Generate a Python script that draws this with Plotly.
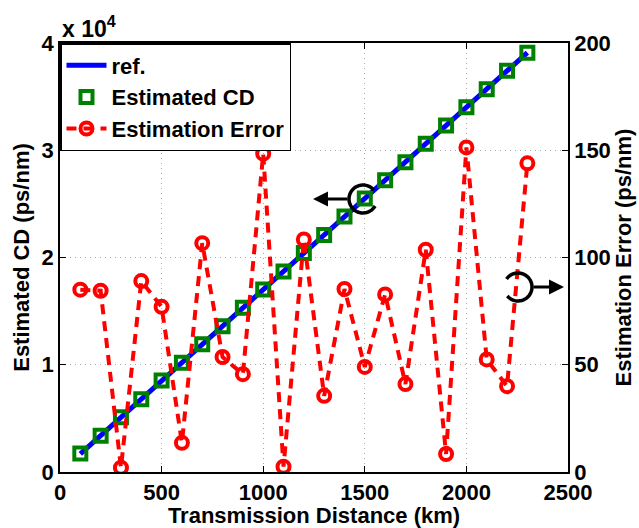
import numpy as np
import plotly.graph_objects as go

# ---- data ----
distance_km = [100, 200, 300, 400, 500, 600, 700, 800, 900, 1000, 1100, 1200,
               1300, 1400, 1500, 1600, 1700, 1800, 1900, 2000, 2100, 2200, 2300]
ref_cd = [1700, 3400, 5100, 6800, 8500, 10200, 11900, 13600, 15300, 17000, 18700, 20400,
          22100, 23800, 25500, 27200, 28900, 30600, 32300, 34000, 35700, 37400, 39100]
est_cd = [1720, 3390, 5110, 6790, 8520, 10190, 11920, 13590, 15310, 17010, 18690, 20420,
          22090, 23820, 25490, 27210, 28890, 30610, 32300, 34020, 35690, 37410, 39090]
est_err = [85, 84.5, 2, 89, 77, 13.6, 106.7, 53.6, 45.6, 148.4, 2.5, 108.4,
           35.5, 85.3, 49, 82.8, 41, 103.6, 8.4, 151.3, 52.5, 40, 143.9]

x_ticks = [0, 500, 1000, 1500, 2000, 2500]
y1_ticks = [0, 10000, 20000, 30000, 40000]
y1_ticktext = ["0", "1", "2", "3", "4"]
y2_ticks = [0, 50, 100, 150, 200]

FONT = "Liberation Sans, Arial, sans-serif"
W, H = 639, 528
L, R, T, B = 60, 71, 43, 56
PW, PH = W - L - R, H - T - B

fig = go.Figure()
fig.add_trace(go.Scatter(x=distance_km, y=ref_cd, mode="lines", name="ref.",
                         line=dict(color="#0000ff", width=5)))
fig.add_trace(go.Scatter(x=distance_km, y=est_cd, mode="markers", name="Estimated CD",
                         marker=dict(symbol="square-open", size=12, color="#008000",
                                     line=dict(width=4, color="#008000"))))
fig.add_trace(go.Scatter(x=distance_km, y=est_err, mode="lines+markers", name="Estimation Error",
                         yaxis="y2",
                         line=dict(color="#ff0000", width=4, dash="10px,7px"),
                         marker=dict(symbol="circle-open", size=12, color="#ff0000",
                                     line=dict(width=4, color="#ff0000"))))

def px2paper(px, py):
    return (px - L) / PW, (H - B - py) / PH

def arc_path(cx, cy, r, a0, a1, n=40):
    angs = np.radians(np.linspace(a0, a1, n))
    pts = [px2paper(cx + r * np.cos(a), cy - r * np.sin(a)) for a in angs]
    return "M " + " L ".join(f"{p[0]:.5f},{p[1]:.5f}" for p in pts)

shapes = [
    dict(type="path", xref="paper", yref="paper",
         path=arc_path(363, 199, 14, 40, 330), line=dict(color="black", width=3.5)),
    dict(type="path", xref="paper", yref="paper",
         path=arc_path(518, 287, 14, -140, 145), line=dict(color="black", width=3.5)),
]

ann = []
tip1 = px2paper(313, 199)
ann.append(dict(xref="paper", yref="paper", x=tip1[0], y=tip1[1], ax=36, ay=0,
                text="", showarrow=True, arrowhead=2, arrowsize=1, arrowwidth=3,
                arrowcolor="black"))
tip2 = px2paper(564, 287)
ann.append(dict(xref="paper", yref="paper", x=tip2[0], y=tip2[1], ax=-32, ay=0,
                text="", showarrow=True, arrowhead=2, arrowsize=1, arrowwidth=3,
                arrowcolor="black"))
ann.append(dict(xref="paper", yref="paper", x=0, y=1, xanchor="left", yanchor="bottom",
                text="x 10<sup>4</sup>", showarrow=False, yshift=-1,
                font=dict(family=FONT, size=23, color="black", weight="bold")))

axis_common = dict(showline=True, linecolor="black", linewidth=1.5, ticks="inside",
                   ticklen=6, tickcolor="black", zeroline=False,
                   tickfont=dict(family=FONT, size=22, color="black", weight="bold"))

grid = dict(showgrid=True, gridcolor="#a8a8a8", griddash="1px,4px", gridwidth=1)

fig.update_layout(
    width=W, height=H,
    margin=dict(l=L, r=R, t=T, b=B, autoexpand=False),
    paper_bgcolor="white", plot_bgcolor="white",
    font=dict(family=FONT, size=22, color="black", weight="bold"),
    showlegend=True,
    legend=dict(x=0, y=1, xanchor="left", yanchor="top", bgcolor="white",
                bordercolor="black", borderwidth=1.5,
                font=dict(family=FONT, size=22, color="black", weight="bold"),
                tracegroupgap=0, itemwidth=40),
    xaxis=dict(range=[0, 2500], tickvals=x_ticks, mirror="ticks",
               title=dict(text="Transmission Distance (km)", standoff=4,
                          font=dict(family=FONT, size=22, color="black", weight="bold")),
               **grid, **axis_common),
    yaxis=dict(range=[0, 40000], tickvals=y1_ticks, ticktext=y1_ticktext,
               title=dict(text="Estimated CD (ps/nm)", standoff=6,
                          font=dict(family=FONT, size=22, color="black", weight="bold")),
               **grid, **axis_common),
    yaxis2=dict(range=[0, 200], tickvals=y2_ticks, overlaying="y", side="right",
                showgrid=False,
                title=dict(text="Estimation Error (ps/nm)", standoff=6,
                           font=dict(family=FONT, size=22, color="black", weight="bold")),
                **axis_common),
    shapes=shapes,
    annotations=ann,
)

fig.write_html("out.html")
